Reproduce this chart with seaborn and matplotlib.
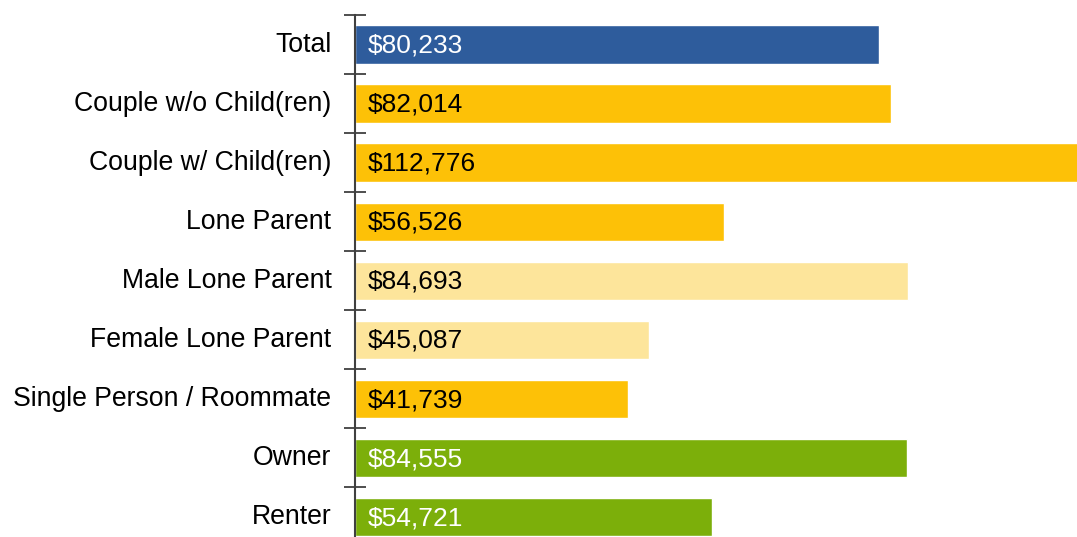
import numpy as np
import pandas as pd
import matplotlib
matplotlib.use("Agg")
import matplotlib.pyplot as plt
import seaborn as sns

# median household income by household type
categories = ["Total", "Couple w/o Child(ren)", "Couple w/ Child(ren)", "Lone Parent",
              "Male Lone Parent", "Female Lone Parent", "Single Person / Roommate",
              "Owner", "Renter"]
incomes = [80233, 82014, 112776, 56526, 84693, 45087, 41739, 84555, 54721]
groups = ["total", "type", "type", "type", "lone", "lone", "type", "tenure", "tenure"]

group_colors = {"total": "#2E5C9C", "type": "#FDC107",
                "lone": "#FDE59B", "tenure": "#7CAF0A"}
text_colors = {"total": "white", "type": "black", "lone": "black", "tenure": "white"}

df = pd.DataFrame({"category": categories, "income": incomes, "group": groups})

sns.set_theme(style="white")
plt.rcParams['font.family'] = ['Liberation Sans', 'DejaVu Sans']

fig = plt.figure(figsize=(10.77, 5.37), dpi=100)
ax = fig.add_axes([355 / 1077, -0.01, 1 - 355 / 1077, 1 - 15 / 537 + 0.01])

sns.barplot(data=df, y="category", x="income", hue="group", palette=group_colors,
            saturation=1, dodge=False, legend=False, width=0.65, ax=ax, orient="h")

for i, (val, grp) in enumerate(zip(incomes, groups)):
    ax.text(2000, i + 0.02, f"${val:,}", va="center", ha="left", fontsize=19,
            color=text_colors[grp])

ax.set_xlim(0, 110550)
ax.set_ylim(len(categories) - 0.57, -0.5)
ax.set_xlabel("")
ax.set_ylabel("")
ax.set_xticks([])

# labels at centres, tick marks at the boundaries
ax.set_yticks(range(len(categories)))
ax.set_yticklabels(categories, fontsize=19.2, color="black", va="center")
ax.set_yticks(np.arange(-0.5, len(categories) - 0.5, 1), minor=True)
ax.tick_params(axis="y", which="major", length=0, pad=17)
ax.tick_params(axis="y", which="minor", direction="inout", length=16, width=1.3,
               color="#404040", left=True)

for side in ["top", "right", "bottom"]:
    ax.spines[side].set_visible(False)
ax.spines["left"].set_color("#404040")
ax.spines["left"].set_linewidth(1.5)

fig.savefig("out.png", dpi=100)
